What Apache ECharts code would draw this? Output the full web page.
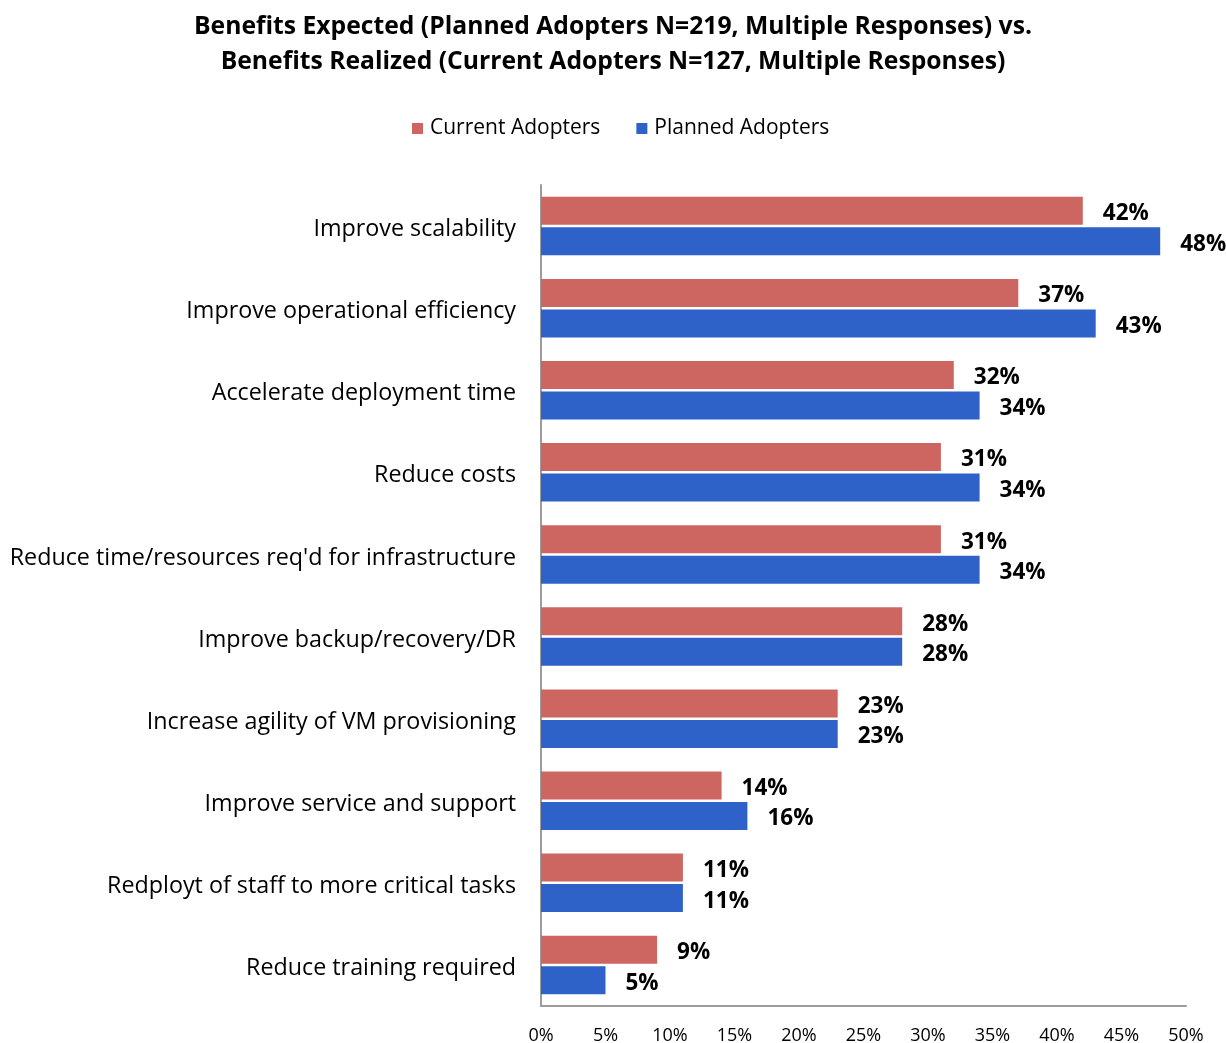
<!DOCTYPE html>
<html>
<head>
<meta charset="utf-8">
<script src="https://cdn.jsdelivr.net/npm/echarts@6/dist/echarts.min.js"></script>
<style>
  html, body { margin: 0; padding: 0; background: #fff; }
  #chart { width: 1226px; height: 1043px; }
</style>
</head>
<body>
<div id="chart"></div>
<script>
// Benefit categories, top to bottom
const categories = [
  'Improve scalability',
  'Improve operational efficiency',
  'Accelerate deployment time',
  'Reduce costs',
  "Reduce time/resources req'd for infrastructure",
  'Improve backup/recovery/DR',
  'Increase agility of VM provisioning',
  'Improve service and support',
  'Redployt of staff to more critical tasks',
  'Reduce training required'
];

// Share of respondents (%)
const currentAdopters = [42, 37, 32, 31, 31, 28, 23, 14, 11, 9];
const plannedAdopters = [48, 43, 34, 34, 34, 28, 23, 16, 11, 5];

const seriesNames = ['Current Adopters', 'Planned Adopters'];
const titleLines = [
  'Benefits Expected (Planned Adopters N=219, Multiple Responses) vs.',
  'Benefits Realized (Current Adopters N=127, Multiple Responses)'
];

const FONT = '"Open Sans", Lato, sans-serif';
const RED = '#CD6660';
const BLUE = '#2E62C8';
const AXIS_GRAY = '#9c9c9c';

const chart = echarts.init(document.getElementById('chart'), null, { renderer: 'canvas' });

const valueLabel = {
  show: true,
  position: 'right',
  distance: 20,
  offset: [0, 3],
  formatter: '{c}%',
  fontFamily: FONT,
  fontWeight: 'bold',
  fontSize: 22.5,
  color: '#000'
};

chart.setOption({
  animation: false,
  backgroundColor: '#fff',
  title: {
    text: titleLines.join('\n'),
    left: 'center',
    top: 4,
    textStyle: {
      fontFamily: FONT,
      fontWeight: 'bold',
      fontSize: 24.7,
      lineHeight: 35,
      color: '#000'
    }
  },
  legend: {
    data: seriesNames,
    top: 113,
    left: 407,
    itemWidth: 11,
    itemHeight: 11,
    itemGap: 36,
    icon: 'rect',
    textStyle: { fontFamily: FONT, fontSize: 21, color: '#000', padding: [0, 0, 0, 2] }
  },
  grid: {
    left: 541,
    right: 40,
    top: 185,
    bottom: 37,
    containLabel: false,
    outerBoundsMode: 'none'
  },
  xAxis: {
    type: 'value',
    min: 0,
    max: 50,
    interval: 5,
    axisLine: { show: true, lineStyle: { color: AXIS_GRAY, width: 2 } },
    axisTick: { show: false },
    splitLine: { show: false },
    axisLabel: {
      formatter: '{value}%',
      fontFamily: FONT,
      fontSize: 18,
      color: '#000',
      margin: 21
    }
  },
  yAxis: {
    type: 'category',
    inverse: true,
    data: categories,
    axisLine: { show: true, lineStyle: { color: AXIS_GRAY, width: 2 } },
    axisTick: { show: false },
    axisLabel: {
      margin: 25,
      formatter: '{cat|{value}}',
      rich: {
        cat: {
          fontFamily: FONT,
          fontSize: 23.3,
          color: '#000',
          padding: [7, 0, 0, 0]
        }
      }
    }
  },
  series: [
    {
      name: seriesNames[0],
      type: 'bar',
      data: currentAdopters,
      barWidth: 28,
      barGap: '9%',
      itemStyle: { color: RED },
      label: valueLabel
    },
    {
      name: seriesNames[1],
      type: 'bar',
      data: plannedAdopters,
      barWidth: 28,
      barGap: '9%',
      itemStyle: { color: BLUE },
      label: valueLabel
    }
  ]
});
</script>
</body>
</html>
